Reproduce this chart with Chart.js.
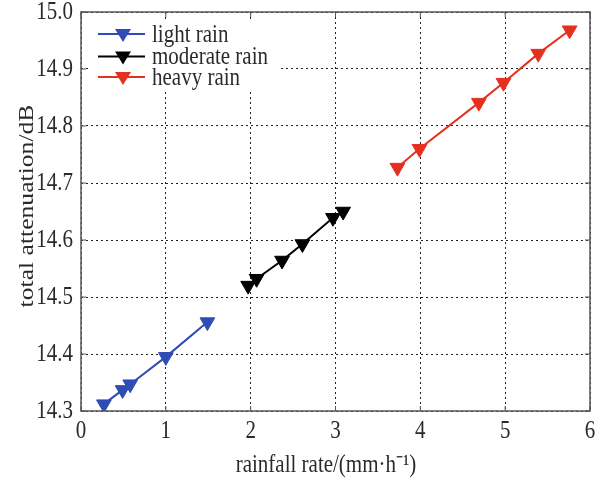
<!DOCTYPE html>
<html>
<head>
<meta charset="utf-8">
<script src="https://cdn.jsdelivr.net/npm/chart.js@4.4.1/dist/chart.umd.min.js"></script>
<style>
  html, body { margin: 0; padding: 0; background: #fff; }
  #wrap { width: 601px; height: 479px; }
</style>
</head>
<body>
<div id="wrap"><canvas id="chart" width="601" height="479"></canvas></div>
<script>
// data
const lightX = [0.27, 0.49, 0.58, 1.0, 1.49];
const lightY = [14.312, 14.337, 14.347, 14.395, 14.456];
const moderateX = [1.97, 2.07, 2.37, 2.61, 2.97, 3.09];
const moderateY = [14.52, 14.532, 14.564, 14.593, 14.639, 14.65];
const heavyX = [3.73, 3.99, 4.69, 4.98, 5.39, 5.76];
const heavyY = [14.727, 14.76, 14.841, 14.876, 14.927, 14.968];

const xTicks = [0, 1, 2, 3, 4, 5, 6];
const yTicks = [14.3, 14.4, 14.5, 14.6, 14.7, 14.8, 14.9, 15.0];
const seriesNames = ['light rain', 'moderate rain', 'heavy rain'];
const seriesColors = ['#2d4cb4', '#000000', '#e5301f'];

const FONT = '"Liberation Serif", "Times New Roman", serif';
const TEXT = '#2a2a2a';
const STRETCH = 1.22; // the picture's lettering is a bit taller than wide

function toPoints(xs, ys) {
    return xs.map((x, i) => ({ x: x, y: ys[i] }));
}

const allX = [lightX, moderateX, heavyX];
const allY = [lightY, moderateY, heavyY];

const datasets = seriesNames.map((name, i) => ({
    label: name,
    data: toPoints(allX[i], allY[i]),
    borderColor: seriesColors[i],
    backgroundColor: seriesColors[i],
    borderWidth: 2,
    pointStyle: 'triangle',
    pointRotation: 180,
    pointRadius: 8.5,
    pointHoverRadius: 8.5,
    pointBorderWidth: 1,
    showLine: true,
    tension: 0
}));

function drawText(ctx, text, x, y, align, rotate) {
    ctx.save();
    ctx.translate(x, y);
    if (rotate) {
        ctx.rotate(-Math.PI / 2);
        ctx.scale(STRETCH, 1);
    } else {
        ctx.scale(1, STRETCH);
    }
    ctx.textAlign = align;
    ctx.textBaseline = 'middle';
    ctx.fillText(text, 0, 0);
    ctx.restore();
}

// frame, inward ticks, labels and legend
const framePlugin = {
    id: 'frame',
    afterDraw(chart) {
        const ctx = chart.ctx;
        const a = chart.chartArea;
        const xs = chart.scales.x, ys = chart.scales.y;
        ctx.save();
        ctx.strokeStyle = '#555';
        ctx.lineWidth = 1.5;
        ctx.strokeRect(a.left, a.top, a.right - a.left, a.bottom - a.top);
        ctx.lineWidth = 1;
        ctx.beginPath();
        xTicks.forEach(v => {
            const px = xs.getPixelForValue(v);
            ctx.moveTo(px, a.bottom); ctx.lineTo(px, a.bottom - 5);
            ctx.moveTo(px, a.top); ctx.lineTo(px, a.top + 5);
        });
        yTicks.forEach(v => {
            const py = ys.getPixelForValue(v);
            ctx.moveTo(a.left, py); ctx.lineTo(a.left + 5, py);
            ctx.moveTo(a.right, py); ctx.lineTo(a.right - 5, py);
        });
        ctx.stroke();

        // tick labels and axis titles
        ctx.fillStyle = TEXT;
        ctx.font = '21px ' + FONT;
        xTicks.forEach(v => {
            drawText(ctx, String(v), xs.getPixelForValue(v), a.bottom + 20, 'center');
        });
        yTicks.forEach(v => {
            drawText(ctx, v.toFixed(1), a.left - 8, ys.getPixelForValue(v), 'right');
        });
        drawText(ctx, 'rainfall rate/(mm\u00b7h\u207b\u00b9)', 326, 465, 'center');
        drawText(ctx, 'total attenuation/dB', 27, 206, 'center', true);

        // legend (white box, no border)
        ctx.fillStyle = '#fff';
        ctx.fillRect(90, 21, 190, 68);
        seriesNames.forEach((name, i) => {
            const y = [34, 56.5, 77][i];
            ctx.strokeStyle = seriesColors[i];
            ctx.fillStyle = seriesColors[i];
            ctx.lineWidth = 2;
            ctx.beginPath();
            ctx.moveTo(98, y); ctx.lineTo(145, y);
            ctx.stroke();
            ctx.beginPath();
            ctx.moveTo(115, y - 5);
            ctx.lineTo(131, y - 5);
            ctx.lineTo(123, y + 8);
            ctx.closePath();
            ctx.fill();
            ctx.fillStyle = TEXT;
            drawText(ctx, name, 152, y + 1, 'left');
        });
        ctx.restore();
    }
};

new Chart(document.getElementById('chart'), {
    type: 'scatter',
    data: { datasets: datasets },
    plugins: [framePlugin],
    options: {
        responsive: false,
        animation: false,
        events: [],
        layout: { padding: { left: 0, right: 11, top: 12, bottom: 0 } },
        plugins: { legend: { display: false }, tooltip: { enabled: false } },
        scales: {
            x: {
                type: 'linear',
                min: 0,
                max: 6,
                afterBuildTicks(scale) { scale.ticks = xTicks.map(v => ({ value: v })); },
                afterFit(scale) { scale.height = 68; },
                grid: { color: '#222', lineWidth: 1, drawTicks: false },
                border: { display: false, dash: [2, 3] },
                ticks: { display: false }
            },
            y: {
                type: 'linear',
                min: 14.3,
                max: 15.0,
                afterBuildTicks(scale) { scale.ticks = yTicks.map(v => ({ value: v })); },
                afterFit(scale) { scale.width = 81; },
                grid: { color: '#222', lineWidth: 1, drawTicks: false },
                border: { display: false, dash: [2, 3] },
                ticks: { display: false }
            }
        }
    }
});
</script>
</body>
</html>
